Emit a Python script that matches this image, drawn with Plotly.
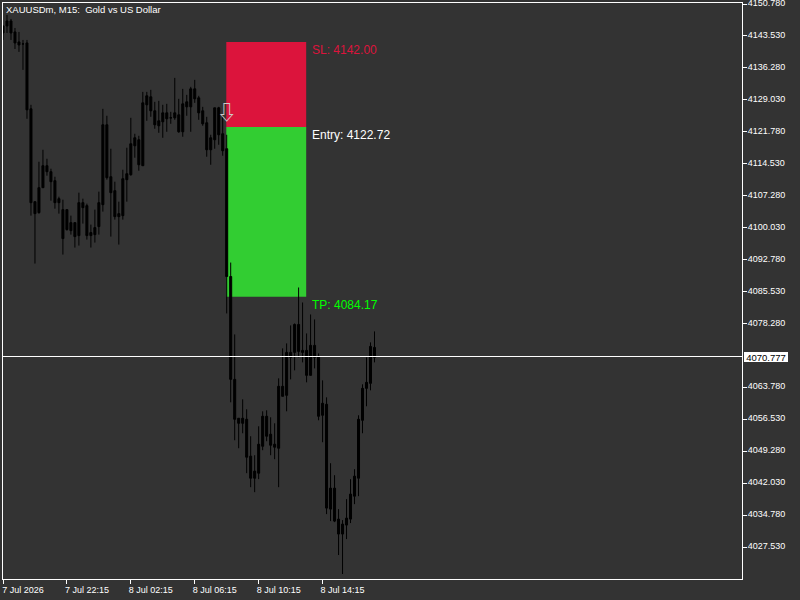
import plotly.graph_objects as go

BG = "#333333"
FG = "#FFFFFF"
FONT = "Liberation Sans"

high = [4145.80,4148.29,4147.38,4145.34,4144.44,4142.62,4142.62,4127.90,4105.92,4114.98,
        4117.70,4115.66,4113.40,4111.58,4107.05,4106.37,4104.11,4102.75,4101.16,4107.96,
        4106.60,4105.47,4100.71,4104.11,4108.19,4126.99,4125.41,4117.93,4110.45,4105.92,
        4113.17,4118.16,4124.95,4121.33,4120.87,4130.84,4130.84,4131.30,4128.58,4128.80,
        4127.90,4128.12,4126.31,4134.01,4129.26,4131.52,4130.16,4131.98,4133.56,4129.94,
        4127.44,4125.18,4121.10,4127.22,4127.44,4125.41,4121.10,4092.10,4075.79,4056.76,
        4061.06,4058.80,4052.68,4048.37,4054.94,4058.34,4058.57,4056.98,4055.62,4065.82,
        4072.62,4073.75,4077.83,4078.28,4086.44,4083.04,4076.01,4080.32,4079.19,4071.48,
        4065.37,4061.51,4046.56,4043.84,4036.14,4033.65,4038.41,4042.94,4045.20,4057.44,
        4064.46,4070.58,4073.98,4076.47]
low = [4142.62,4144.21,4142.62,4140.58,4139.91,4135.83,4124.73,4102.75,4091.87,4103.20,
       4109.09,4111.81,4106.15,4104.33,4103.20,4093.91,4099.35,4098.44,4095.50,4095.95,
       4100.94,4097.31,4095.50,4096.63,4098.44,4103.66,4110.91,4097.99,4101.84,4096.18,
       4101.84,4105.92,4111.81,4115.89,4112.94,4114.08,4124.27,4125.18,4122.46,4121.55,
       4120.42,4121.78,4123.59,4124.50,4121.55,4120.65,4125.41,4121.78,4128.35,4124.50,
       4123.14,4116.12,4114.30,4117.93,4118.83,4116.34,4080.55,4060.38,4051.77,4049.96,
       4053.36,4044.30,4041.12,4039.99,4042.94,4049.51,4051.55,4048.37,4047.47,4041.12,
       4061.74,4058.34,4065.59,4067.63,4070.58,4069.44,4064.91,4066.50,4068.08,4056.30,
       4051.32,4035.01,4033.42,4033.19,4025.72,4021.41,4029.34,4032.97,4037.27,4039.08,
       4053.36,4059.48,4063.10,4069.44]
open_ = [4145.80,4145.80,4146.93,4144.44,4142.17,4141.72,4141.94,4126.99,4105.92,4103.43,
         4109.09,4114.08,4112.72,4110.68,4105.69,4104.11,4104.11,4099.35,4101.16,4098.22,
         4105.69,4105.01,4098.22,4098.44,4100.26,4105.24,4123.37,4111.58,4108.41,4102.52,
         4102.75,4110.91,4112.04,4118.61,4119.97,4114.08,4127.90,4129.71,4126.54,4123.14,
         4124.05,4126.08,4124.95,4124.95,4125.63,4121.78,4127.44,4127.44,4131.52,4129.48,
         4126.54,4123.82,4117.70,4119.97,4127.22,4121.33,4117.93,4088.93,4065.59,4056.76,
         4055.62,4056.53,4048.15,4043.16,4044.30,4050.41,4057.21,4053.13,4050.87,4049.96,
         4064.01,4061.97,4071.71,4071.71,4078.05,4072.16,4072.16,4066.50,4073.30,4070.80,
         4060.16,4059.93,4036.14,4040.90,4033.87,4030.48,4032.52,4033.87,4039.08,4043.16,
         4056.30,4063.55,4064.69,4072.84]
close = [4144.21,4146.93,4144.21,4141.94,4141.49,4141.72,4126.76,4105.69,4103.20,4109.09,
         4114.08,4112.72,4110.45,4105.69,4106.60,4097.54,4099.58,4101.16,4097.99,4105.69,
         4104.56,4098.22,4098.90,4100.03,4105.69,4123.37,4111.36,4107.96,4102.52,4103.20,
         4111.13,4112.26,4119.06,4120.42,4114.30,4128.35,4129.94,4126.54,4123.37,4124.27,
         4126.08,4124.73,4124.95,4126.08,4121.78,4128.12,4128.58,4131.52,4129.26,4126.08,
         4123.59,4117.70,4120.42,4127.22,4121.10,4117.48,4088.93,4065.59,4056.53,4055.62,
         4056.76,4047.92,4043.16,4044.75,4050.87,4057.21,4052.68,4050.64,4050.19,4064.01,
         4061.74,4071.71,4070.58,4078.05,4071.94,4071.71,4066.50,4073.30,4070.58,4057.21,
         4057.44,4036.37,4040.90,4033.42,4030.48,4032.74,4034.10,4039.54,4043.62,4056.53,
         4063.55,4064.91,4073.07,4070.58]
bars = list(range(len(high)))

price_ticks = [4150.78,4143.53,4136.28,4129.03,4121.78,4114.53,4107.28,4100.03,4092.78,
               4085.53,4078.28,4063.78,4056.53,4049.28,4042.03,4034.78,4027.53]
time_ticks = [0, 16, 32, 48, 64, 80]
time_labels = ["7 Jul 2026", "7 Jul 22:15", "8 Jul 02:15", "8 Jul 06:15", "8 Jul 10:15", "8 Jul 14:15"]

stop_loss = 4142.00
entry = 4122.72
take_profit = 4084.17
current_price = 4070.777
zone_start = 55.9
zone_end = 75.9
zone_nudge = 0.15
signal_bar = 56
signal_price = 4125.5
symbol_title = "XAUUSDm, M15:\u00a0\u00a0Gold vs US Dollar"

fig = go.Figure()
fig.add_trace(go.Candlestick(
    x=bars, open=open_, high=high, low=low, close=close,
    increasing=dict(line=dict(color="#000000", width=1), fillcolor="#000000"),
    decreasing=dict(line=dict(color="#000000", width=1), fillcolor="#000000"),
    whiskerwidth=0, showlegend=False, hoverinfo="skip",
))
fig.add_trace(go.Scatter(
    x=[signal_bar], y=[signal_price], mode="text", text=["\u21e9"],
    textfont=dict(family="Noto Sans CJK SC", size=20, weight="bold", color="#D0C8C8"),
    textposition="middle center", showlegend=False, hoverinfo="skip",
))

fig.add_shape(type="rect", x0=zone_start, x1=zone_end, y0=entry + zone_nudge, y1=stop_loss + zone_nudge,
              fillcolor="#DC143C", line_width=0, layer="below")
fig.add_shape(type="rect", x0=zone_start, x1=zone_end, y0=take_profit + zone_nudge, y1=entry + zone_nudge,
              fillcolor="#32CD32", line_width=0, layer="below")
fig.add_shape(type="line", xref="paper", x0=0, x1=1, y0=current_price, y1=current_price,
              line=dict(color=FG, width=1), layer="above")

for label, price, color, nudge in [(f"SL: {stop_loss:.2f}", stop_loss, "#DC143C", -7),
                                   (f"Entry: {entry:.2f}", entry, "#FFFFFF", -7),
                                   (f"TP: {take_profit:.2f}", take_profit, "#00FF00", -8)]:
    fig.add_annotation(x=zone_end, y=price, text=label, showarrow=False, xanchor="left",
                       yanchor="middle", xshift=4, yshift=nudge,
                       font=dict(family=FONT, size=12, color=color))

fig.add_annotation(xref="paper", yref="y", x=1, y=current_price, text=f"{current_price:.3f}",
                   showarrow=False, xanchor="left", yanchor="middle", xshift=2, width=44, height=10,
                   font=dict(family=FONT, size=9.5, color="#000000"), bgcolor="#FFFFFF",
                   borderpad=0, borderwidth=0)
fig.add_annotation(xref="paper", yref="paper", x=0, y=1, text=symbol_title, showarrow=False,
                   xanchor="left", yanchor="top", xshift=1, yshift=1,
                   font=dict(family=FONT, size=9.5, color=FG))

fig.update_layout(
    width=800, height=600, autosize=False,
    paper_bgcolor=BG, plot_bgcolor=BG,
    margin=dict(l=2.5, r=57.5, t=2.5, b=20.5, pad=0),
    boxgap=0.5, boxgroupgap=0,
    font=dict(family=FONT, size=9, color=FG),
    showlegend=False,
    xaxis=dict(range=[0, 185], rangeslider=dict(visible=False), showgrid=False, zeroline=False,
               tickmode="array", tickvals=time_ticks, ticktext=time_labels,
               ticks="outside", ticklen=4, tickwidth=1, tickcolor=FG,
               showline=True, linecolor=FG, linewidth=1, mirror=True,
               ticklabelshift=20, ticklabelstandoff=-2, tickangle=0, automargin=False,
               ticklabeloverflow="allow",
               tickfont=dict(family=FONT, size=9, color=FG)),
    yaxis=dict(range=[4020.28, 4151.007], side="right", showgrid=False, zeroline=False,
               tickmode="array", tickvals=price_ticks, ticktext=[f"{v:.3f}" for v in price_ticks],
               ticks="outside", ticklen=4, tickwidth=1, tickcolor=FG,
               showline=True, linecolor=FG, linewidth=1, mirror=True, automargin=False,
               ticklabelstandoff=-1, ticklabelshift=-1, ticklabeloverflow="allow",
               tickfont=dict(family=FONT, size=9, color=FG)),
)
fig.write_html("out.html", config={"displayModeBar": False},
               post_script="document.body.style.margin='0';document.body.style.background='#333333';")
